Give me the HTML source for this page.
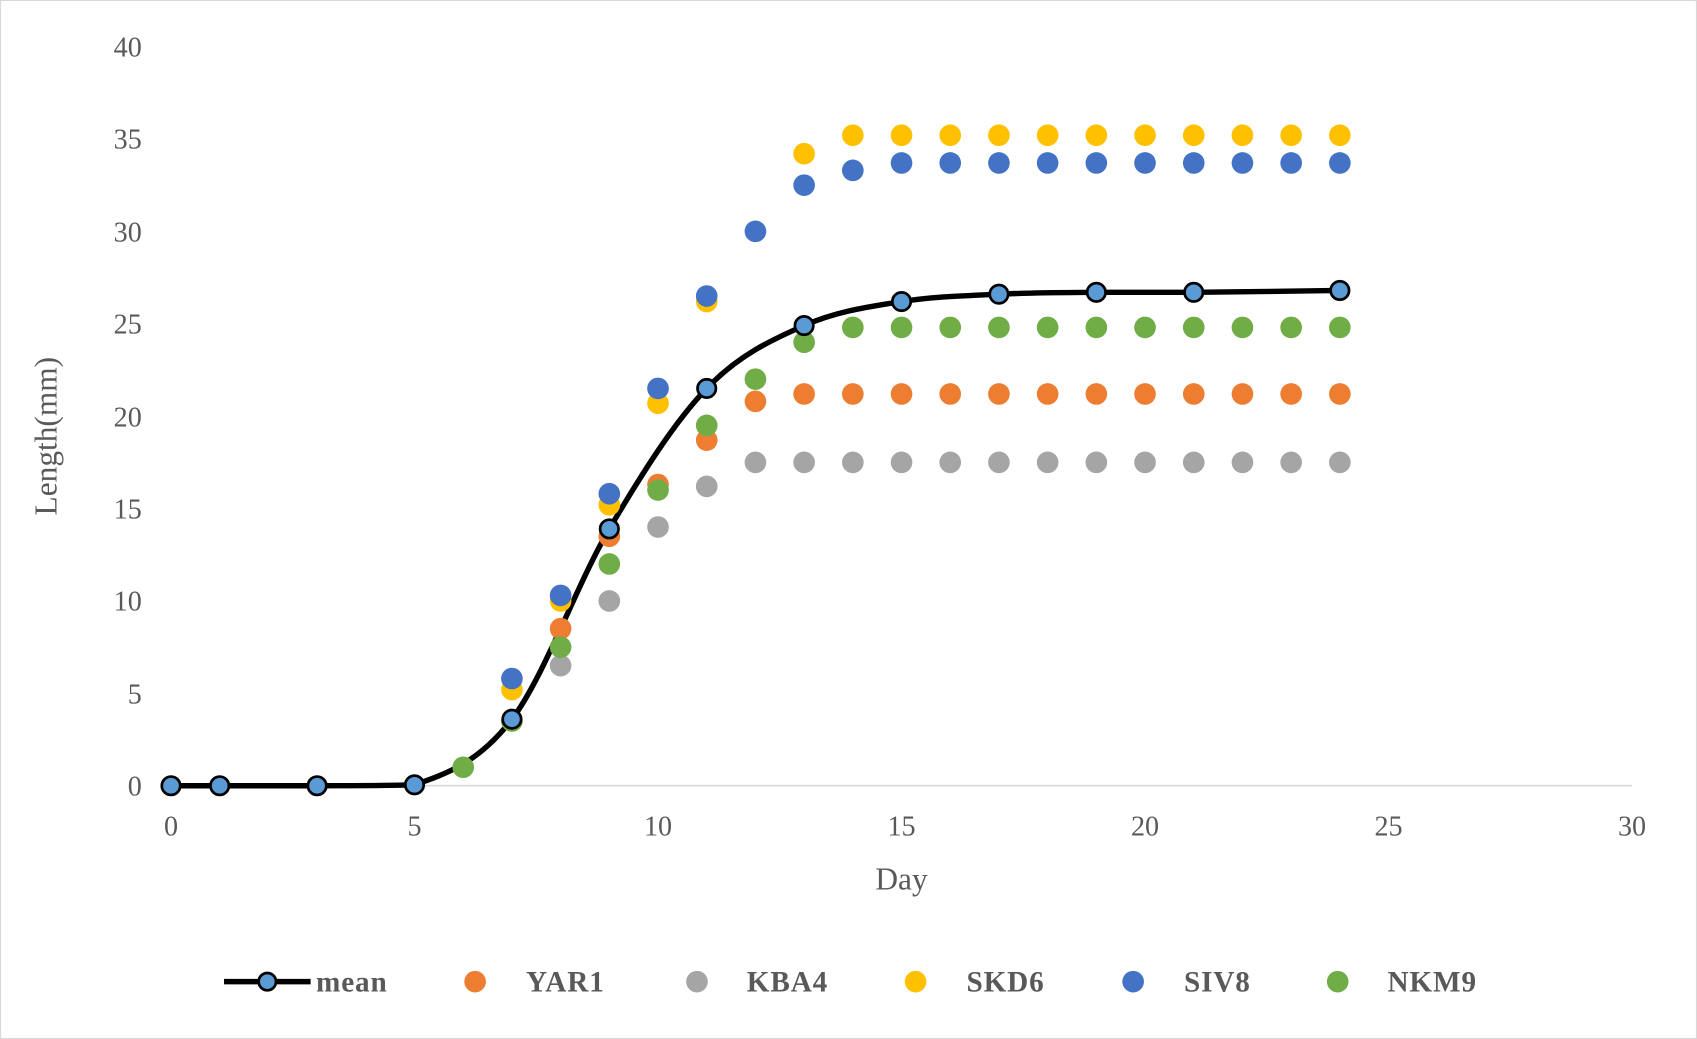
<!DOCTYPE html>
<html><head><meta charset="utf-8"><style>html,body{margin:0;padding:0;background:#fff}svg{display:block}</style></head>
<body>
<svg width="1697" height="1039" viewBox="0 0 1568 960" preserveAspectRatio="none" xmlns="http://www.w3.org/2000/svg" font-family="Liberation Serif, serif" fill="#595959">
<rect x="0.5" y="0.5" width="1567" height="959" fill="#fff" stroke="#d9d9d9"/>
<line x1="158" y1="726" x2="1508" y2="726" stroke="#d9d9d9" stroke-width="1.5"/>
<g font-size="26" text-anchor="end">
<text x="131" y="735">0</text><text x="131" y="650">5</text><text x="131" y="564">10</text><text x="131" y="479">15</text><text x="131" y="394">20</text><text x="131" y="308">25</text><text x="131" y="223">30</text><text x="131" y="137">35</text><text x="131" y="52">40</text>
</g>
<g font-size="26" text-anchor="middle">
<text x="158" y="772">0</text><text x="383" y="772">5</text><text x="608" y="772">10</text><text x="833" y="772">15</text><text x="1058" y="772">20</text><text x="1283" y="772">25</text><text x="1508" y="772">30</text>
<text x="833" y="822" font-size="29">Day</text>
<text transform="translate(52,403) rotate(-90)" font-size="29">Length(mm)</text>
</g>
<g id="plot"></g>
<g font-size="27" font-weight="bold" letter-spacing="0.8">
<line x1="207" y1="907" x2="287" y2="907" stroke="#000" stroke-width="5"/>
<circle cx="247" cy="907" r="8" fill="#5B9BD5" stroke="#000" stroke-width="2.5"/>
<text x="292" y="916">mean</text>
<circle cx="439" cy="907" r="10" fill="#ED7D31"/><text x="486" y="916">YAR1</text>
<circle cx="644" cy="907" r="10" fill="#A5A5A5"/><text x="690" y="916">KBA4</text>
<circle cx="846" cy="907" r="10" fill="#FFC000"/><text x="893" y="916">SKD6</text>
<circle cx="1047" cy="907" r="10" fill="#4472C4"/><text x="1094" y="916">SIV8</text>
<circle cx="1236" cy="907" r="10" fill="#70AD47"/><text x="1282" y="916">NKM9</text>
</g>
</svg>
<script>
var NS="http://www.w3.org/2000/svg",g=document.getElementById("plot");
function X(d){return 158+45*d}function Y(v){return 726-17.075*v}
function el(t,a){var e=document.createElementNS(NS,t);for(var k in a)e.setAttribute(k,a[k]);g.appendChild(e);return e}
var mean=[[0,0],[1,0],[3,0],[5,0.05],[7,3.6],[9,13.9],[11,21.5],[13,24.9],[15,26.2],[17,26.6],[19,26.7],[21,26.7],[24,26.8]];
var p=mean.map(function(a){return[X(a[0]),Y(a[1])]});
var d="M"+p[0][0]+","+p[0][1];
for(var i=0;i<p.length-1;i++){var p0=p[i-1]||p[i],p1=p[i],p2=p[i+1],p3=p[i+2]||p2,t=6;
var c1y=p1[1]+(p2[1]-p0[1])/t,c2y=p2[1]-(p3[1]-p1[1])/t;
var lo=Math.min(p1[1],p2[1]),hi=Math.max(p1[1],p2[1]);
c1y=Math.max(lo,Math.min(hi,c1y));c2y=Math.max(lo,Math.min(hi,c2y));
d+=" C"+(p1[0]+(p2[0]-p0[0])/t)+","+c1y+" "+(p2[0]-(p3[0]-p1[0])/t)+","+c2y+" "+p2[0]+","+p2[1];}
el("path",{d:d,fill:"none",stroke:"#000","stroke-width":5});
function rng(a,b,v){var r=[];for(var i=a;i<=b;i++)r.push([i,v]);return r}
var S=[
["#ED7D31",[[8,8.5],[9,13.5],[10,16.3],[11,18.7],[12,20.8]].concat(rng(13,24,21.2))],
["#A5A5A5",[[8,6.5],[9,10],[10,14],[11,16.2]].concat(rng(12,24,17.5))],
["#FFC000",[[7,5.2],[8,10],[9,15.2],[10,20.7],[11,26.2],[13,34.2]].concat(rng(14,24,35.2))],
["#4472C4",[[7,5.8],[8,10.3],[9,15.8],[10,21.5],[11,26.5],[12,30],[13,32.5],[14,33.3]].concat(rng(15,24,33.7))],
["#70AD47",[[6,1],[7,3.5],[8,7.5],[9,12],[10,16],[11,19.5],[12,22],[13,24]].concat(rng(14,24,24.8))]];
S.forEach(function(s){s[1].forEach(function(a){el("circle",{cx:X(a[0]),cy:Y(a[1]),r:10,fill:s[0]})})});
p.forEach(function(a){el("circle",{cx:a[0],cy:a[1],r:8.5,fill:"#5B9BD5",stroke:"#000","stroke-width":2.5})});
</script>
</body></html>
